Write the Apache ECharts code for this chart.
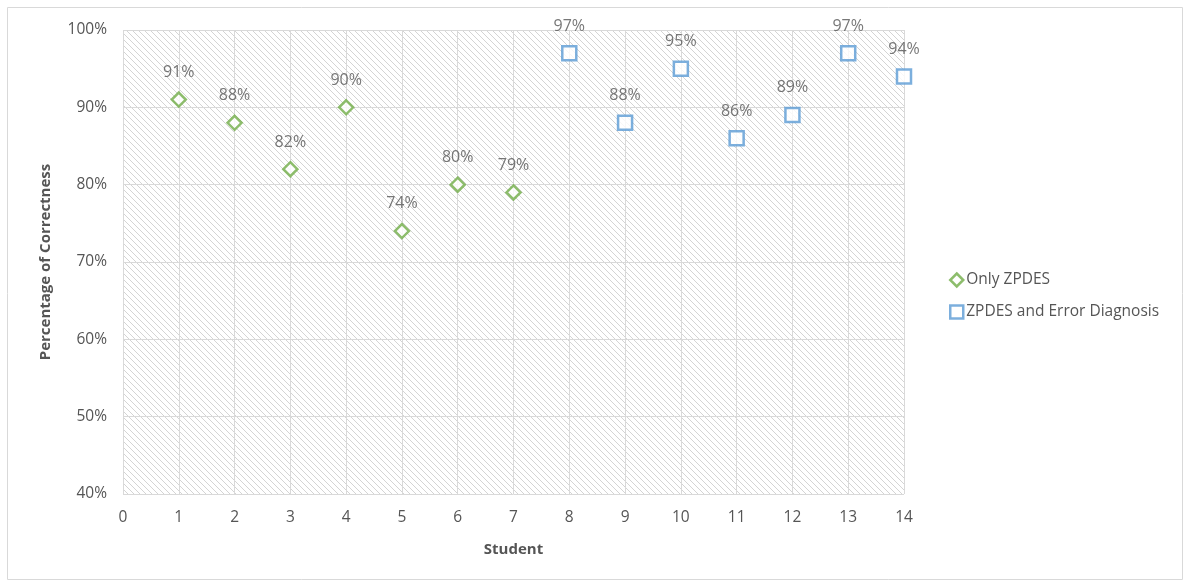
<!DOCTYPE html>
<html>
<head>
<meta charset="utf-8">
<script src="https://cdn.jsdelivr.net/npm/echarts@6/dist/echarts.min.js"></script>
<style>
  html, body { margin: 0; padding: 0; background: #fff; }
  #chart { width: 1185px; height: 583px; }
</style>
</head>
<body>
<div id="chart"></div>
<script>
  // data
  const studentsA = [1, 2, 3, 4, 5, 6, 7];
  const onlyZpdes = [0.91, 0.88, 0.82, 0.90, 0.74, 0.80, 0.79];
  const studentsB = [8, 9, 10, 11, 12, 13, 14];
  const zpdesDiag = [0.97, 0.88, 0.95, 0.86, 0.89, 0.97, 0.94];
  const seriesNames = ['Only ZPDES', 'ZPDES and Error Diagnosis'];

  // hatched plot background
  function hatch() {
    const c = document.createElement('canvas');
    c.width = 6; c.height = 6;
    const g = c.getContext('2d');
    g.fillStyle = '#ffffff';
    g.fillRect(0, 0, 6, 6);
    g.strokeStyle = '#d4d4d4';
    g.lineWidth = 1;
    g.beginPath();
    g.moveTo(-1, -1); g.lineTo(7, 7);
    g.moveTo(-4, 2); g.lineTo(2, 8);
    g.moveTo(2, -4); g.lineTo(8, 2);
    g.stroke();
    return c;
  }

  const font = 'Open Sans, Liberation Sans, sans-serif';
  const txt = '#555555';
  const pct = v => Math.round(v * 100) + '%';

  const chart = echarts.init(document.getElementById('chart'));
  chart.setOption({
    animation: false,
    textStyle: { fontFamily: font },
    graphic: [{
      type: 'rect',
      shape: { x: 7.5, y: 7.5, width: 1175, height: 572 },
      style: { fill: 'none', stroke: '#d9d9d9', lineWidth: 1 }
    }],
    grid: {
      left: 123, right: 281, top: 30, bottom: 89,
      show: true,
      borderWidth: 0,
      backgroundColor: { image: hatch(), repeat: 'repeat' }
    },
    legend: {
      orient: 'vertical',
      left: 944, top: 267,
      itemGap: 16,
      itemWidth: 13, itemHeight: 13,
      itemStyle: { borderWidth: 2.5 },
      textStyle: { color: txt, fontSize: 15.5, fontFamily: font, padding: [0, 0, 0, -2] },
      data: seriesNames
    },
    xAxis: {
      type: 'value',
      min: 0, max: 14, interval: 1,
      name: 'Student',
      nameLocation: 'middle',
      nameGap: 48,
      nameTextStyle: { color: txt, fontWeight: 'bold', fontSize: 15 },
      axisLine: { show: false },
      axisTick: { show: false },
      axisLabel: { color: txt, fontSize: 15.5, margin: 16 },
      splitLine: { show: true, lineStyle: { color: '#d9d9d9', width: 1 } }
    },
    yAxis: {
      type: 'value',
      min: 0.4, max: 1.0, interval: 0.1,
      name: 'Percentage of Correctness',
      nameLocation: 'middle',
      nameGap: 70,
      nameTextStyle: { color: txt, fontWeight: 'bold', fontSize: 15 },
      axisLine: { show: false },
      axisTick: { show: false },
      axisLabel: { color: txt, fontSize: 15.5, margin: 16, formatter: pct },
      splitLine: { show: true, lineStyle: { color: '#d9d9d9', width: 1 } }
    },
    series: [{
      name: seriesNames[0],
      type: 'scatter',
      symbol: 'diamond',
      symbolSize: 14,
      itemStyle: { color: '#fff', borderColor: '#70ad47', borderWidth: 2.5 },
      label: {
        show: true, position: 'top', distance: 11,
        color: txt, fontSize: 16,
        formatter: p => pct(p.value[1])
      },
      data: studentsA.map((s, i) => [s, onlyZpdes[i]])
    }, {
      name: seriesNames[1],
      type: 'scatter',
      symbol: 'rect',
      symbolSize: 14,
      itemStyle: { color: '#fff', borderColor: '#5b9bd5', borderWidth: 2.5 },
      label: {
        show: true, position: 'top', distance: 11,
        color: txt, fontSize: 16,
        formatter: p => pct(p.value[1])
      },
      data: studentsB.map((s, i) => [s, zpdesDiag[i]])
    }]
  });
</script>
</body>
</html>
